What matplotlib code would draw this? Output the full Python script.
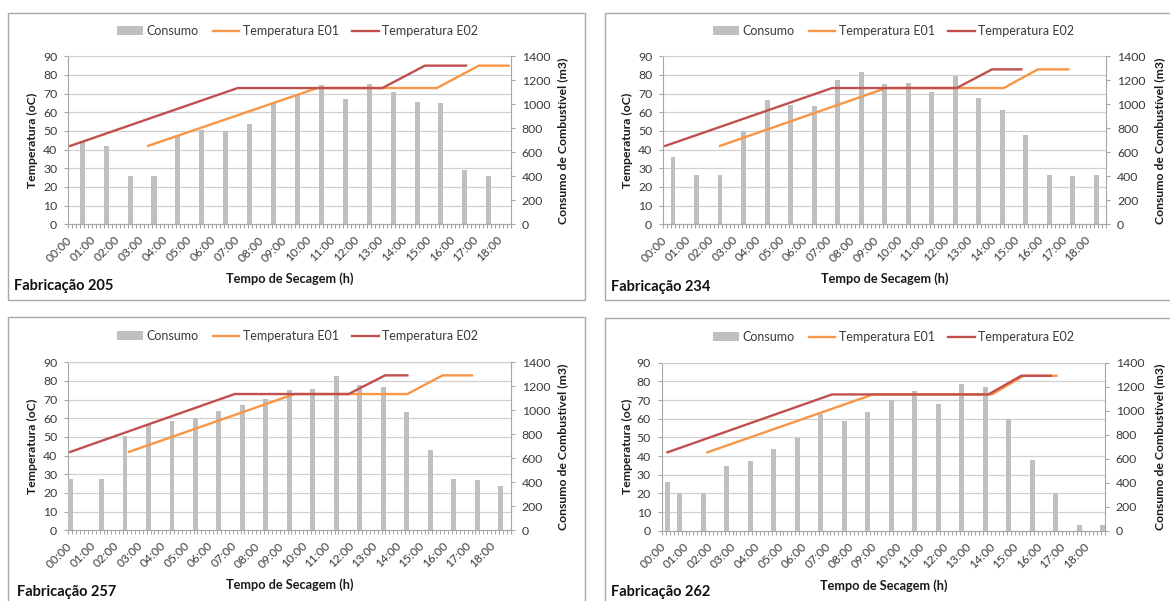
import matplotlib

matplotlib.use("Agg")
import matplotlib.pyplot as plt  # noqa: E402
import numpy as np  # noqa: E402
from matplotlib.lines import Line2D  # noqa: E402
from matplotlib.patches import Patch, Rectangle  # noqa: E402

W, H = 1170, 601
plt.rcParams["font.family"] = ["Lato", "DejaVu Sans"]

GRAY = "#BFBFBF"
ORANGE = "#F79646"
RED = "#C0504D"
GRID = "#D0D0D0"
AXC = "#A6A6A6"
TXT = "#3A3A3A"

HOUR_LABELS = ["00:00", "01:00", "02:00", "03:00", "04:00", "05:00", "06:00",
               "07:00", "08:00", "09:00", "10:00", "11:00", "12:00", "13:00",
               "14:00", "15:00", "16:00", "17:00", "18:00"]
SERIES = ["Consumo", "Temperatura E01", "Temperatura E02"]

# Fabricação 205 (time in hours)
f205_bar_t = [0.5, 1.5, 2.5, 3.5, 4.5, 5.5, 6.5, 7.5, 8.5, 9.5, 10.5, 11.5,
              12.5, 13.5, 14.5, 15.5, 16.5, 17.5]
f205_bar_v = [694, 650, 406, 406, 744, 783, 778, 839, 1014, 1086, 1161, 1047,
              1167, 1100, 1022, 1008, 450, 406]
f205_e01_t = [3.25, 10.33, 15.33, 17.08, 18.33]
f205_e01_v = [42, 73, 73, 85, 85]
f205_e02_t = [0.0, 7.0, 13.05, 14.83, 16.55]
f205_e02_v = [42, 73, 73, 85, 85]

# Fabricação 234
f234_bar_t = [0.33, 1.33, 2.33, 3.33, 4.33, 5.33, 6.33, 7.33, 8.33, 9.33, 10.33,
              11.33, 12.33, 13.33, 14.33, 15.33, 16.33, 17.33, 18.33]
f234_bar_v = [564, 414, 408, 781, 1039, 992, 983, 1200, 1269, 1172, 1175, 1100,
              1239, 1053, 953, 747, 408, 406, 408]
f234_e01_t = [2.33, 9.4, 14.4, 15.85, 17.15]
f234_e01_v = [42, 73, 73, 83, 83]
f234_e02_t = [0.0, 7.1, 12.4, 13.9, 15.15]
f234_e02_v = [42, 73, 73, 83, 83]

# Fabricação 257
f257_bar_t = [0.0, 1.33, 2.33, 3.33, 4.33, 5.33, 6.33, 7.33, 8.33, 9.33, 10.33,
              11.33, 12.33, 13.33, 14.33, 15.33, 16.33, 17.33, 18.33]
f257_bar_v = [425, 425, 786, 875, 914, 936, 994, 1042, 1092, 1167, 1178, 1286,
              1214, 1194, 986, 667, 425, 419, 367]
f257_e01_t = [2.5, 9.55, 14.35, 15.85, 17.1]
f257_e01_v = [42, 73, 73, 83, 83]
f257_e02_t = [0.0, 7.0, 11.85, 13.4, 14.35]
f257_e02_v = [42, 73, 73, 83, 83]

# Fabricação 262
f262_bar_t = [0.17, 0.67, 1.67, 2.67, 3.67, 4.67, 5.67, 6.67, 7.67, 8.67, 9.67,
              10.67, 11.67, 12.67, 13.67, 14.67, 15.67, 16.67, 17.67, 18.67]
f262_bar_v = [406, 311, 311, 542, 578, 681, 775, 975, 911, 989, 1092, 1164,
              1053, 1222, 1194, 931, 592, 314, 47, 47]
f262_e01_t = [1.85, 8.9, 13.95, 15.3, 16.7]
f262_e01_v = [42, 73, 73, 83, 83]
f262_e02_t = [0.15, 7.15, 13.8, 15.2, 16.45]
f262_e02_v = [42, 73, 73, 83, 83]


def fx(x):
    return x / W


def fy(y):
    return 1 - y / H


def panel(fig, plot, box, title, title_xy, legend_y, ylab_x, rylab_x, xlab_y,
          xmax, bar_t, bar_v, e01_t, e01_v, e02_t, e02_v):
    bx0, by0, bx1, by1 = box
    fig.patches.append(Rectangle((fx(bx0), fy(by1)), fx(bx1 - bx0), (by1 - by0) / H,
                                 transform=fig.transFigure, fill=False,
                                 edgecolor="#A8A8A8", lw=1.0))
    x0, x1, yt, yb = plot
    ax = fig.add_axes([fx(x0), fy(yb), fx(x1 - x0), (yb - yt) / H])
    ax2 = ax.twinx()

    ax2.bar(bar_t, bar_v, width=0.21, color=GRAY, zorder=2)
    ax2.plot(e01_t, e01_v, color=ORANGE, lw=1.7, transform=ax.transData, zorder=3)
    ax2.plot(e02_t, e02_v, color=RED, lw=1.7, transform=ax.transData, zorder=4)

    ax.set_xlim(-1 / 12, xmax)
    ax.set_ylim(0, 90)
    ax2.set_ylim(0, 1400)
    ax.set_yticks(np.arange(0, 91, 10))
    ax2.set_yticks(np.arange(0, 1401, 200))
    ax.yaxis.grid(True, color=GRID, lw=0.9)
    ax.set_axisbelow(True)

    ax.set_xticks(np.arange(len(HOUR_LABELS)))
    ax.set_xticklabels(HOUR_LABELS, rotation=45, ha="right", va="center",
                       rotation_mode="anchor")
    ax.set_xticks(np.arange(-1 / 12, xmax + 0.01, 1 / 6), minor=True)
    ax.tick_params(axis="x", which="major", length=0, pad=10, labelsize=8.6,
                   labelcolor=TXT)
    ax.tick_params(axis="x", which="minor", length=3, color=AXC, width=0.8,
                   direction="out")
    ax.tick_params(axis="y", length=3, color=AXC, pad=5, labelsize=8.8,
                   labelcolor=TXT)
    ax2.tick_params(axis="y", length=3, color=AXC, pad=5, labelsize=8.8,
                    labelcolor=TXT)

    for s in ("left", "bottom"):
        ax.spines[s].set_color(AXC)
    ax.spines["top"].set_color(GRID)
    ax.spines["right"].set_visible(False)
    for s in ("left", "top", "bottom"):
        ax2.spines[s].set_visible(False)
    ax2.spines["right"].set_color(AXC)

    cy = (yt + yb) / 2
    fig.text(fx(ylab_x), fy(cy), "Temperatura (oC)", rotation=90, ha="center",
             va="center", fontsize=8.8, fontweight="bold", color="#1A1A1A")
    fig.text(fx(rylab_x), fy(cy), "Consumo de Combustível (m3)", rotation=90,
             ha="center", va="center", fontsize=8.8, fontweight="bold", color="#1A1A1A")
    fig.text(fx((x0 + x1) / 2), fy(xlab_y), "Tempo de Secagem (h)", ha="center",
             va="center", fontsize=9.2, fontweight="bold", color="#1A1A1A")
    fig.text(fx(title_xy[0]), fy(title_xy[1]), title, ha="left", va="center",
             fontsize=10.5, fontweight="bold", color="#111111")

    handles = [Patch(facecolor=GRAY, edgecolor="none"),
               Line2D([], [], color=ORANGE, lw=1.7),
               Line2D([], [], color=RED, lw=1.7)]
    fig.legend(handles, SERIES, loc="center", ncol=3, frameon=False,
               bbox_to_anchor=(fx((bx0 + min(bx1, 1170 + 25)) / 2 + 1), fy(legend_y)),
               fontsize=9, handlelength=2.1, handletextpad=0.3,
               columnspacing=1.1, labelcolor=TXT)


fig = plt.figure(figsize=(W / 100, H / 100), dpi=100)

panel(fig, (68.3, 510.7, 56.3, 224.3), (8, 13, 585, 300), "Fabricação 205", (14, 286),
      31, 32, 563, 279, 18 + 5 / 12,
      f205_bar_t, f205_bar_v, f205_e01_t, f205_e01_v, f205_e02_t, f205_e02_v)
panel(fig, (663.3, 1106, 56.3, 224.3), (605, 13, 1180, 300), "Fabricação 234", (611, 287),
      31, 627, 1160, 279, 18.75,
      f234_bar_t, f234_bar_v, f234_e01_t, f234_e01_v, f234_e02_t, f234_e02_v)
panel(fig, (68.3, 510.7, 362.3, 530.3), (8, 317, 585, 610), "Fabricação 257", (17, 592),
      336, 32, 563, 585, 18.75,
      f257_bar_t, f257_bar_v, f257_e01_t, f257_e01_v, f257_e02_t, f257_e02_v)
panel(fig, (662, 1104.7, 362.7, 530.7), (605, 318, 1180, 610), "Fabricação 262", (611, 592),
      337, 627, 1160, 586, 18.75,
      f262_bar_t, f262_bar_v, f262_e01_t, f262_e01_v, f262_e02_t, f262_e02_v)

fig.savefig("out.png", dpi=100)
